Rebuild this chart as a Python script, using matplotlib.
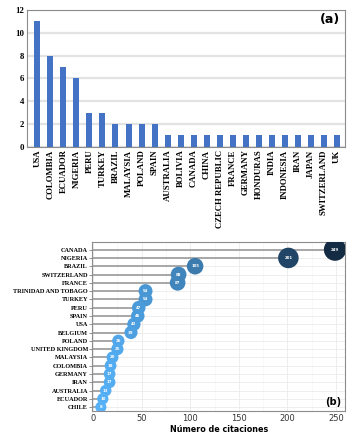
import numpy as np
import matplotlib.pyplot as plt
from matplotlib.colors import LinearSegmentedColormap

# panel (a): number of publications per country
paises_a = ["USA", "COLOMBIA", "ECUADOR", "NIGERIA", "PERU", "TURKEY", "BRAZIL",
            "MALAYSIA", "POLAND", "SPAIN", "AUSTRALIA", "BOLIVIA", "CANADA", "CHINA",
            "CZECH REPUBLIC", "FRANCE", "GERMANY", "HONDURAS", "INDIA", "INDONESIA",
            "IRAN", "JAPAN", "SWITZERLAND", "UK"]
publicaciones = [11, 8, 7, 6, 3, 3, 2, 2, 2, 2, 1, 1, 1, 1, 1, 1, 1, 1, 1, 1, 1, 1, 1, 1]

# panel (b): citations per country
paises_b = ["CANADA", "NIGERIA", "BRAZIL", "SWITZERLAND", "FRANCE", "TRINIDAD AND TOBAGO",
            "TURKEY", "PERU", "SPAIN", "USA", "BELGIUM", "POLAND", "UNITED KINGDOM",
            "MALAYSIA", "COLOMBIA", "GERMANY", "IRAN", "AUSTRALIA", "ECUADOR", "CHILE"]
citaciones = [249, 201, 105, 88, 87, 54, 54, 47, 46, 42, 39, 26, 25, 20, 18, 17, 17, 13, 10, 8]

serif = {"family": "Liberation Serif", "weight": "bold"}

fig = plt.figure(figsize=(3.57, 4.38), dpi=100)

# ---- (a) bar chart
ax1 = fig.add_axes([0.076, 0.665, 0.890, 0.312])
xa = np.arange(len(paises_a))
ax1.bar(xa, publicaciones, width=0.46, color="#4472C4", zorder=3)
ax1.set_ylim(0, 12)
ax1.set_xlim(-0.78, len(paises_a) - 0.4)
ax1.set_yticks(range(0, 13, 2))
ax1.set_xticks(xa)
ax1.set_xticklabels(paises_a, rotation=90, fontsize=6.3, fontdict=serif)
for lab in ax1.get_yticklabels():
    lab.set_fontfamily("Liberation Serif")
    lab.set_fontweight("bold")
    lab.set_fontsize(6.3)
ax1.tick_params(length=0, pad=2)
ax1.yaxis.grid(True, color="#e3e3e3", lw=1.6, zorder=0)
for s in ax1.spines.values():
    s.set_color("#8c8c8c")
    s.set_linewidth(0.8)
ax1.text(0.985, 0.93, "(a)", transform=ax1.transAxes, ha="right", va="center",
         fontsize=9, fontweight="bold", family="DejaVu Sans")

# ---- (b) lollipop / bubble chart
ax2 = fig.add_axes([0.258, 0.062, 0.709, 0.386])
yb = np.arange(len(paises_b))[::-1]
cmap = LinearSegmentedColormap.from_list("gg", ["#56B1F7", "#132B43"])
vals = np.array(citaciones)
norm = (vals - vals.min()) / (vals.max() - vals.min())
ax2.hlines(yb, 0, vals, color="#9a9a9a", lw=1.2, zorder=2)
ax2.scatter(vals, yb, s=58 + vals * 0.8, c=cmap(norm), zorder=3, linewidths=0)
for v, y in zip(vals, yb):
    ax2.text(v, y, str(v), color="white", fontsize=2.8, fontweight="bold",
             ha="center", va="center", zorder=4)
ax2.set_xlim(-1, 259.5)
ax2.set_ylim(-0.45, len(paises_b) - 0.05)
ax2.set_yticks(yb)
ax2.set_yticklabels(paises_b, fontsize=4.5, fontdict=serif)
ax2.set_xticks(range(0, 251, 50))
ax2.set_xticks(range(25, 251, 50), minor=True)
ax2.tick_params(axis="x", labelsize=6, colors="#333333", length=0, pad=2)
ax2.tick_params(axis="y", length=2, width=0.5, color="#666666", pad=1)
ax2.tick_params(which="minor", length=0)
ax2.grid(True, which="major", color="#ebebeb", lw=0.6, zorder=0)
ax2.grid(True, which="minor", axis="x", color="#f3f3f3", lw=0.4, zorder=0)
for s in ax2.spines.values():
    s.set_color("#8c8c8c")
    s.set_linewidth(0.8)
ax2.set_xlabel("Número de citaciones", fontsize=5.8, fontweight="bold", labelpad=2)
ax2.text(0.985, 0.05, "(b)", transform=ax2.transAxes, ha="right", va="center",
         fontsize=7, fontweight="bold", family="DejaVu Sans")

fig.savefig("out.png", dpi=100)
